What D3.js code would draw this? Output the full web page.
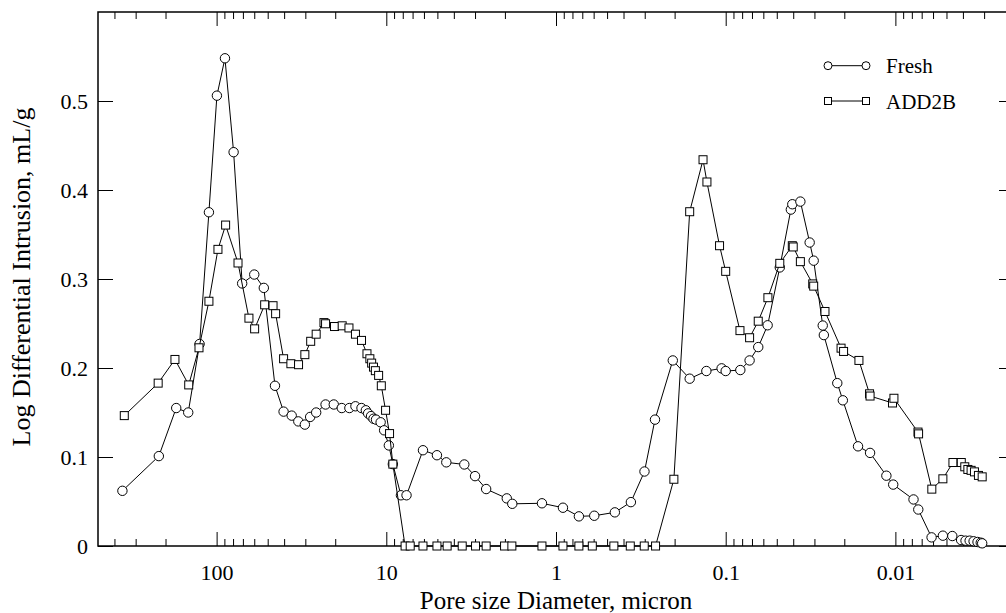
<!DOCTYPE html>
<html>
<head>
<meta charset="utf-8">
<script src="https://cdn.jsdelivr.net/npm/d3@7"></script>
<style>
  body { margin: 0; background: #fff; }
  svg { display: block; }
  text { font-family: "Liberation Serif", "Times New Roman", serif; fill: #000; }
</style>
</head>
<body>
<script>
// pore diameter (micron) and log differential intrusion (mL/g)
var freshX = [359, 219, 173, 147, 126, 111, 99.6, 89.3, 79.4, 70.7, 60.0, 52.7, 45.3, 40.3, 36.1, 33.0, 30.2, 28.1,
    25.9, 22.8, 20.4, 18.3, 16.5, 15.2, 14.0, 13.2, 12.8, 12.3, 11.9, 11.5, 10.8, 10.3, 9.66, 9.15, 8.2, 7.6,
    6.08, 5.03, 4.43, 3.47, 3.00, 2.58, 1.95, 1.81, 1.21, 0.91, 0.733, 0.595, 0.45, 0.362, 0.301, 0.261, 0.205,
    0.163, 0.130, 0.1057, 0.100, 0.082, 0.0723, 0.0643, 0.0566, 0.048, 0.0413, 0.0405, 0.0363, 0.032, 0.0303,
    0.0268, 0.0264, 0.022, 0.0204, 0.0166, 0.0141, 0.0113, 0.0103, 0.00782, 0.00733, 0.00612, 0.00525, 0.00462,
    0.0041, 0.00386, 0.00365, 0.00346, 0.00328, 0.00314, 0.00308];
var freshY = [0.062, 0.101, 0.155, 0.150, 0.227, 0.375, 0.506, 0.548, 0.4425, 0.295, 0.305, 0.290, 0.180, 0.151,
    0.1465, 0.140, 0.1364, 0.145, 0.150, 0.159, 0.159, 0.155, 0.155, 0.157, 0.155, 0.1525, 0.149, 0.146, 0.143,
    0.142, 0.139, 0.130, 0.113, 0.092, 0.057, 0.057, 0.1076, 0.102, 0.094, 0.0916, 0.0785, 0.064, 0.0535, 0.0474,
    0.048, 0.043, 0.0333, 0.034, 0.0378, 0.0493, 0.0837, 0.142, 0.2085, 0.188, 0.1966, 0.1996, 0.1966, 0.1977,
    0.2085, 0.2235, 0.248, 0.313, 0.378, 0.384, 0.387, 0.341, 0.3206, 0.2477, 0.237, 0.183, 0.1637, 0.112,
    0.1046, 0.079, 0.069, 0.0523, 0.041, 0.0097, 0.0116, 0.0112, 0.0067, 0.006, 0.006, 0.0053, 0.0045, 0.0037,
    0.003];

var addX = [350, 221, 176, 146, 127, 111, 98.2, 88.5, 74.8, 64.5, 59.7, 52.1, 46.5, 44.9, 40.3, 36.5, 32.9, 30.2,
    27.9, 25.9, 23.3, 22.8, 20.2, 18.2, 16.6, 15.2, 14.0, 13.0, 12.5, 12.2, 11.9, 11.6, 11.1, 10.7, 10.1, 9.57,
    9.15, 7.75, 7.23, 6.08, 5.03, 4.38, 3.57, 2.98, 2.58, 2.01, 1.82, 1.21, 0.91, 0.733, 0.611, 0.456, 0.365,
    0.302, 0.259, 0.202, 0.163, 0.136, 0.129, 0.1087, 0.100, 0.0824, 0.0723, 0.0643, 0.0564, 0.048, 0.0405,
    0.0400, 0.0363, 0.0307, 0.0303, 0.026, 0.0209, 0.0202, 0.0164, 0.0142, 0.0141, 0.0104, 0.0102, 0.00736,
    0.00730, 0.0061, 0.00525, 0.00458, 0.00409, 0.00390, 0.00374, 0.00358, 0.00342, 0.00324, 0.00308];
var addY = [0.1465, 0.183, 0.2096, 0.181, 0.2227, 0.275, 0.3333, 0.3606, 0.318, 0.256, 0.244, 0.271, 0.270, 0.261,
    0.2104, 0.2048, 0.2037, 0.215, 0.230, 0.238, 0.251, 0.2497, 0.2466, 0.2474, 0.245, 0.238, 0.231, 0.216,
    0.2104, 0.2055, 0.201, 0.197, 0.1917, 0.180, 0.1525, 0.1263, 0.092,
    0, 0, 0, 0, 0, 0, 0, 0, 0, 0, 0, 0, 0, 0, 0, 0, 0, 0,
    0.075, 0.3756, 0.434, 0.409, 0.3374, 0.3086, 0.242, 0.234, 0.2526, 0.279, 0.3176, 0.3374, 0.336, 0.3195,
    0.2945, 0.292, 0.2635, 0.2223, 0.2186, 0.2085, 0.171, 0.1685, 0.1607, 0.166, 0.128, 0.126, 0.0639, 0.0755,
    0.0938, 0.0938, 0.089, 0.086, 0.085, 0.0833, 0.0793, 0.0777];

var seriesNames = ['Fresh', 'ADD2B'];
var xMajor = [100, 10, 1, 0.1, 0.01];
var xMajorLabels = ['100', '10', '1', '0.1', '0.01'];
var yTicks = [0, 0.1, 0.2, 0.3, 0.4, 0.5];
var yTickLabels = ['0', '0.1', '0.2', '0.3', '0.4', '0.5'];

var width = 1006, height = 613;
var mLeft = 98, mRight = 1014, mTop = 12, mBottom = 546;

var svg = d3.select('body').append('svg').attr('width', width).attr('height', height);

var x = d3.scaleLog().domain([500, 0.002]).range([mLeft, mRight]);
var y = d3.scaleLinear().domain([0, 0.6]).range([mBottom, mTop]);

// minor ticks 2..9 of each decade
var xMinor = [];
[0.001, 0.01, 0.1, 1, 10, 100].forEach(function (dec) {
    for (var k = 2; k <= 9; k++) {
        var v = dec * k;
        if (v < 500 && v > 0.002) xMinor.push(v);
    }
});

function styleAxis(g) {
    g.select('.domain').remove();
    g.selectAll('line').attr('stroke', '#000').attr('stroke-width', 1);
}

svg.append('g').attr('transform', 'translate(0,' + mBottom + ')')
    .call(d3.axisBottom(x).tickValues(xMinor).tickSize(-7).tickFormat(''))
    .call(styleAxis);
svg.append('g').attr('transform', 'translate(0,' + mTop + ')')
    .call(d3.axisTop(x).tickValues(xMinor).tickSize(-7).tickFormat(''))
    .call(styleAxis);

svg.append('g').attr('transform', 'translate(0,' + mBottom + ')')
    .call(d3.axisBottom(x).tickValues(xMajor).tickSize(-14).tickPadding(18)
        .tickFormat(function (d, i) { return xMajorLabels[i]; }))
    .call(styleAxis)
    .selectAll('text').attr('font-size', 22).attr('font-family', '"Liberation Serif", serif');
svg.append('g').attr('transform', 'translate(0,' + mTop + ')')
    .call(d3.axisTop(x).tickValues(xMajor).tickSize(-14).tickFormat(''))
    .call(styleAxis);

svg.append('g').attr('transform', 'translate(' + mLeft + ',0)')
    .call(d3.axisLeft(y).tickValues(yTicks).tickSize(-15).tickPadding(10)
        .tickFormat(function (d, i) { return yTickLabels[i]; }))
    .call(styleAxis)
    .selectAll('text').attr('font-size', 22).attr('font-family', '"Liberation Serif", serif');
svg.append('g').attr('transform', 'translate(' + mRight + ',0)')
    .call(d3.axisRight(y).tickValues(yTicks).tickSize(-15).tickFormat(''))
    .call(styleAxis);

// frame
svg.append('rect')
    .attr('x', mLeft).attr('y', mTop)
    .attr('width', mRight - mLeft).attr('height', mBottom - mTop)
    .attr('fill', 'none').attr('stroke', '#000').attr('stroke-width', 1.5);

// axis titles
svg.append('text')
    .attr('x', x(1)).attr('y', 609)
    .attr('text-anchor', 'middle').attr('font-size', 25)
    .text('Pore size Diameter, micron');
svg.append('text')
    .attr('transform', 'translate(30,277) rotate(-90)')
    .attr('text-anchor', 'middle').attr('font-size', 26)
    .text('Log Differential Intrusion, mL/g');

var line = d3.line()
    .x(function (d) { return x(d[0]); })
    .y(function (d) { return y(d[1]); });

var fresh = d3.zip(freshX, freshY);
var add = d3.zip(addX, addY);

// Fresh: line + open circles
svg.append('path').datum(fresh).attr('d', line)
    .attr('fill', 'none').attr('stroke', '#000').attr('stroke-width', 1);
svg.append('g').selectAll('circle').data(fresh).enter().append('circle')
    .attr('cx', function (d) { return x(d[0]); })
    .attr('cy', function (d) { return y(d[1]); })
    .attr('r', 4.7)
    .attr('fill', '#fff').attr('stroke', '#000').attr('stroke-width', 1);

// ADD2B: line + open squares
var sq = 8;
svg.append('path').datum(add).attr('d', line)
    .attr('fill', 'none').attr('stroke', '#000').attr('stroke-width', 1);
svg.append('g').selectAll('rect').data(add).enter().append('rect')
    .attr('x', function (d) { return x(d[0]) - sq / 2; })
    .attr('y', function (d) { return y(d[1]) - sq / 2; })
    .attr('width', sq).attr('height', sq)
    .attr('fill', '#fff').attr('stroke', '#000').attr('stroke-width', 1);

// legend
var lg = svg.append('g');
var rows = [65.7, 101];
seriesNames.forEach(function (name, i) {
    var yy = rows[i];
    lg.append('line').attr('x1', 828).attr('x2', 866).attr('y1', yy).attr('y2', yy)
        .attr('stroke', '#000').attr('stroke-width', 1);
    [828, 866].forEach(function (cx) {
        if (i === 0) {
            lg.append('circle').attr('cx', cx).attr('cy', yy).attr('r', 4)
                .attr('fill', '#fff').attr('stroke', '#000');
        } else {
            lg.append('rect').attr('x', cx - 3.5).attr('y', yy - 3.5).attr('width', 7).attr('height', 7)
                .attr('fill', '#fff').attr('stroke', '#000');
        }
    });
    lg.append('text').attr('x', 886).attr('y', yy + 7.5).attr('font-size', 21).text(name);
});
</script>
</body>
</html>
